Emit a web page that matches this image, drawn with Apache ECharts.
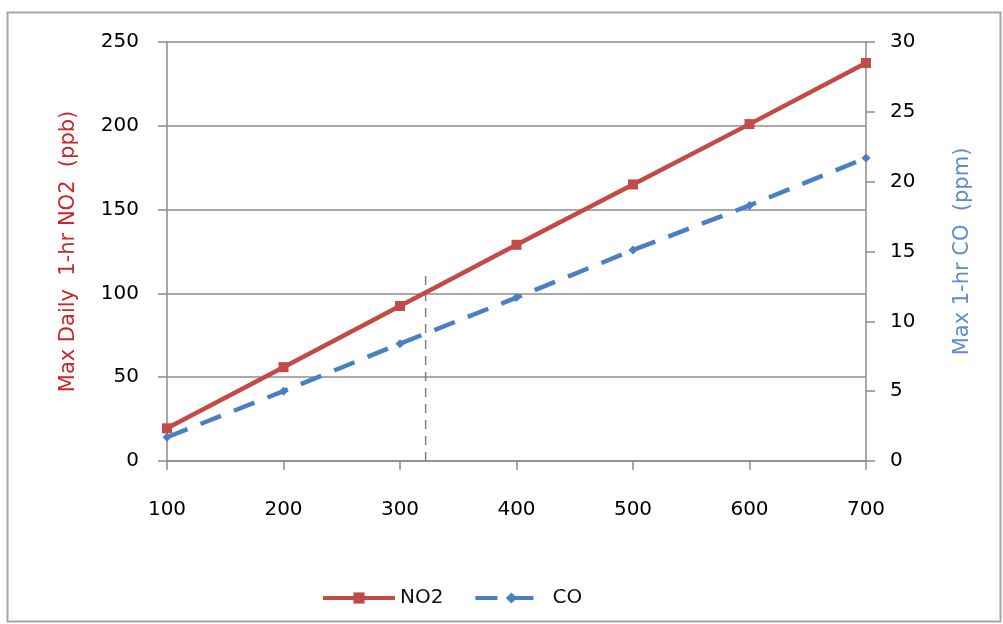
<!DOCTYPE html>
<html>
<head>
<meta charset="utf-8">
<script src="https://cdn.jsdelivr.net/npm/echarts@6/dist/echarts.min.js"></script>
<style>
html,body{margin:0;padding:0;background:#fff;}
#c{width:1003px;height:624px;}
</style>
</head>
<body>
<div id="c"></div>
<script>
// Data
var xValues = [100, 200, 300, 400, 500, 600, 700];
var no2Values = [19.5, 56, 92.5, 129, 165, 201, 237.5];
var coValues = [1.7, 5.0, 8.4, 11.7, 15.1, 18.3, 21.7];
var refX = [322, 322];
var refY = [0, 113];
var seriesNames = ['NO2', 'CO'];
var leftAxisName = 'Max Daily  1-hr NO2  (ppb)';
var rightAxisName = 'Max 1-hr CO  (ppm)';

function pairs(xs, ys) { return xs.map(function (x, i) { return [x, ys[i]]; }); }

var FONT = 'DejaVu Sans';
var RED = '#C44A47';
var BLUE = '#4A7FC4';
var GRID = '#8c8c8c';

var chart = echarts.init(document.getElementById('c'), null, {renderer: 'canvas'});
chart.setOption({
  animation: false,
  backgroundColor: '#fff',
  graphic: [{
    type: 'rect', left: 5, top: 10, silent: true,
    shape: {width: 993, height: 609},
    style: {fill: 'none', stroke: '#a6a6a6', lineWidth: 2}
  }],
  grid: {left: 167, right: 137, top: 42, bottom: 163, containLabel: false},
  legend: {
    data: seriesNames,
    bottom: 11,
    left: 316,
    itemWidth: 72,
    itemHeight: 14,
    itemGap: 30,
    lineStyle: {width: 4},
    textStyle: {fontFamily: FONT, fontSize: 20, color: '#111'}
  },
  xAxis: {
    type: 'value', min: 100, max: 700, interval: 100,
    axisLine: {show: true, lineStyle: {color: GRID, width: 1.5}},
    axisTick: {show: true, length: 9, lineStyle: {color: GRID, width: 1.5}},
    axisLabel: {margin: 39, fontFamily: FONT, fontSize: 20, color: '#000'},
    splitLine: {show: false}
  },
  yAxis: [{
    type: 'value', min: 0, max: 250, interval: 50, position: 'left',
    name: leftAxisName, nameLocation: 'middle', nameRotate: 90, nameGap: 88,
    nameTextStyle: {fontFamily: FONT, fontSize: 21, color: '#C8282A'},
    axisLine: {show: true, lineStyle: {color: GRID, width: 1.5}},
    axisTick: {show: true, length: 9, lineStyle: {color: GRID, width: 1.5}},
    axisLabel: {margin: 28, fontFamily: FONT, fontSize: 20, color: '#000'},
    splitLine: {show: true, lineStyle: {color: GRID, width: 1.5}}
  }, {
    type: 'value', min: 0, max: 30, interval: 5, position: 'right',
    name: rightAxisName, nameLocation: 'middle', nameRotate: 90, nameGap: 86,
    nameTextStyle: {fontFamily: FONT, fontSize: 21, color: '#5A8ED4'},
    axisLine: {show: true, lineStyle: {color: GRID, width: 1.5}},
    axisTick: {show: true, length: 9, lineStyle: {color: GRID, width: 1.5}},
    axisLabel: {margin: 24, fontFamily: FONT, fontSize: 20, color: '#000'},
    splitLine: {show: false}
  }],
  series: [{
    name: 'ref', type: 'line', yAxisIndex: 0, silent: true,
    data: pairs(refX, refY), symbol: 'none',
    lineStyle: {color: '#7f7f7f', width: 1.5, type: [9, 7]},
    z: 1
  }, {
    name: seriesNames[0], type: 'line', yAxisIndex: 0,
    data: pairs(xValues, no2Values),
    symbol: 'rect', symbolSize: 10,
    itemStyle: {color: RED},
    lineStyle: {color: RED, width: 4.5},
    z: 3
  }, {
    name: seriesNames[1], type: 'line', yAxisIndex: 1,
    data: pairs(xValues, coValues),
    symbol: 'diamond', symbolSize: 9,
    itemStyle: {color: BLUE},
    lineStyle: {color: BLUE, width: 4.5, type: [22, 14]},
    z: 2
  }]
});
</script>
</body>
</html>
